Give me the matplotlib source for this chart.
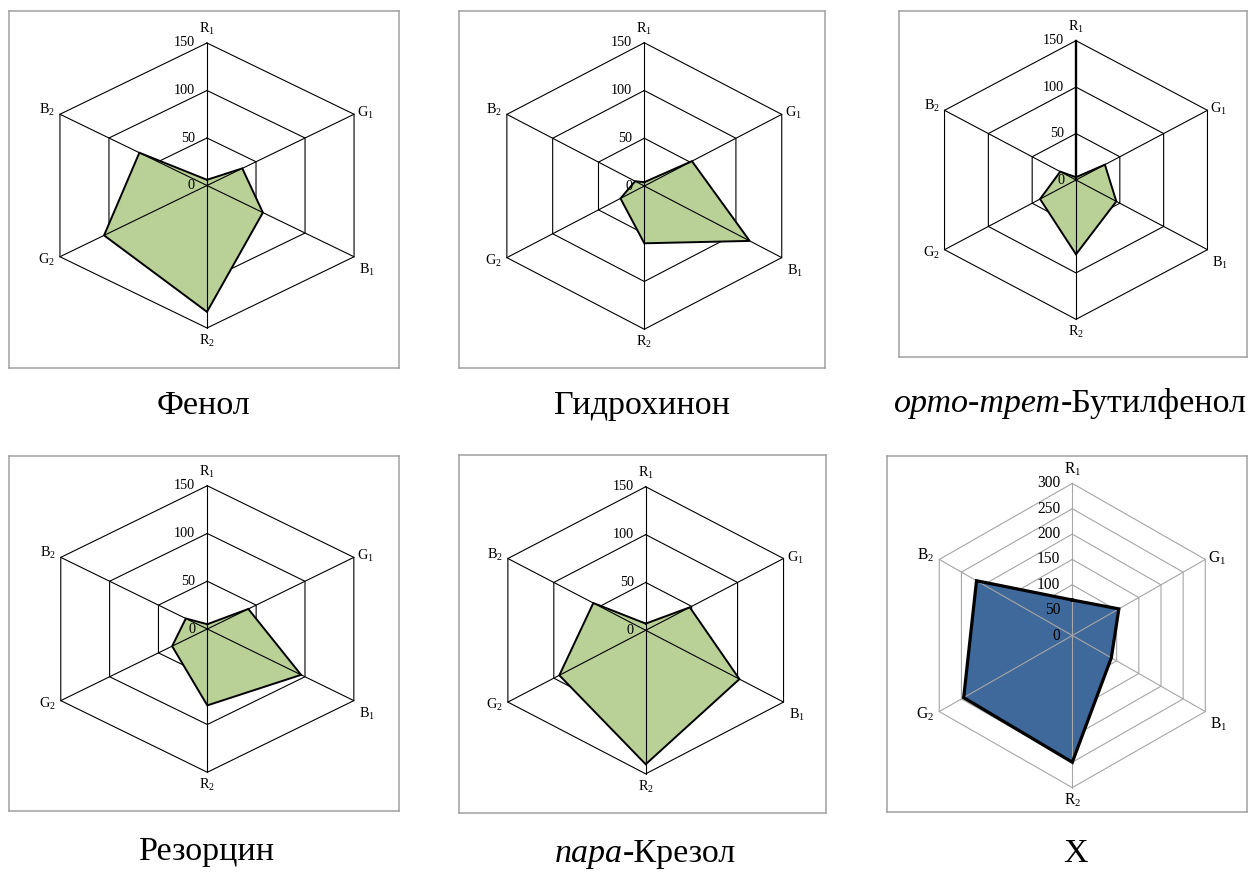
import numpy as np
import matplotlib
matplotlib.use("Agg")
import matplotlib.pyplot as plt

plt.rcParams["font.family"] = ["Liberation Serif", "DejaVu Serif"]
plt.rcParams["mathtext.fontset"] = "custom"
plt.rcParams["mathtext.rm"] = "Liberation Serif"
plt.rcParams["mathtext.it"] = "Liberation Serif:italic"

W, H = 1248, 872
DPI = 100
PT = 72.0 / DPI  # points per pixel

# Colour channels of the two exposures, clockwise from the top
axis_labels = [r"$\mathrm{R}_1$", r"$\mathrm{G}_1$", r"$\mathrm{B}_1$",
               r"$\mathrm{R}_2$", r"$\mathrm{G}_2$", r"$\mathrm{B}_2$"]

# Analytical signal per channel for each compound
phenol = [6, 36, 57, 133, 105, 69]
hydroquinone = [4, 52, 115, 60, 26, 10]
tert_butylphenol = [3, 33, 46, 80, 41, 18]
resorcinol = [5, 42, 96, 80, 36, 22]
p_cresol = [7, 48, 102, 140, 94, 57]
sample_x = [70, 105, 88, 250, 245, 216]

ticks_150 = [0, 50, 100, 150]
ticks_300 = [0, 50, 100, 150, 200, 250, 300]

captions = [
    [("Фенол", "normal")],
    [("Гидрохинон", "normal")],
    [("орто-трет", "italic"), ("-Бутилфенол", "normal")],
    [("Резорцин", "normal")],
    [("пара", "italic"), ("-Крезол", "normal")],
    [("X", "normal")],
]

GREEN = "#B9D097"
BLUE = "#3F689B"

# panel geometry in pixels: frame (left, top, right, bottom), centre, px per unit (x, y)
panels = [
    dict(data=phenol, ticks=ticks_150, box=(9, 11, 399, 368), c=(207, 185.5), s=(1.132, 0.950),
         fill=GREEN, grid="black", edge=1.4, cap=(204, 414), fs=10.3, top_spoke=0.8),
    dict(data=hydroquinone, ticks=ticks_150, box=(459, 11, 825, 368), c=(644.3, 186), s=(1.058, 0.955),
         fill=GREEN, grid="black", edge=1.4, cap=(642, 414), fs=10.3, top_spoke=0.8),
    dict(data=tert_butylphenol, ticks=ticks_150, box=(899, 11, 1247, 357), c=(1076, 180), s=(1.012, 0.929),
         fill=GREEN, grid="black", edge=1.4, cap=(1070, 412), fs=10.3, top_spoke=1.7),
    dict(data=resorcinol, ticks=ticks_150, box=(9, 456, 399, 811), c=(207.3, 629), s=(1.128, 0.955),
         fill=GREEN, grid="black", edge=1.4, cap=(207, 860), fs=10.3, top_spoke=0.8),
    dict(data=p_cresol, ticks=ticks_150, box=(459, 455, 826, 813), c=(645.7, 630.3), s=(1.061, 0.957),
         fill=GREEN, grid="black", edge=1.4, cap=(645, 862), fs=10.3, top_spoke=0.8),
    dict(data=sample_x, ticks=ticks_300, box=(887, 456, 1247, 812), c=(1072.3, 635.5), s=(0.512, 0.507),
         fill=BLUE, grid="#A6A6A6", edge=2.3, cap=(1075, 862), fs=11.2, top_spoke=0.8),
]

angles = np.deg2rad(90 - 60 * np.arange(6))
ux, uy = np.cos(angles), np.sin(angles)

# label placement around each vertex: (dx px, dy px, ha)
label_place = [(0, 14, "center"), (3, 1, "left"), (5, -13, "left"),
               (0, -13, "center"), (-5, -3, "right"), (-5, 4, "right")]

fig = plt.figure(figsize=(W / DPI, H / DPI), dpi=DPI)
fig.patch.set_facecolor("white")

for p in panels:
    l, t, r, b = p["box"]
    cx, cy = p["c"]
    sx, sy = p["s"]
    ax = fig.add_axes([l / W, 1 - b / H, (r - l) / W, (b - t) / H])
    ax.set_xlim((l - cx) / sx, (r - cx) / sx)
    ax.set_ylim((cy - b) / sy, (cy - t) / sy)
    ax.set_xticks([])
    ax.set_yticks([])
    for sp in ax.spines.values():
        sp.set_color("#A0A0A0")
        sp.set_linewidth(1.1)

    rmax = p["ticks"][-1]
    # hexagonal rings
    for v in p["ticks"][1:]:
        ax.plot(np.append(ux, ux[0]) * v, np.append(uy, uy[0]) * v,
                color=p["grid"], lw=0.8, zorder=1, solid_joinstyle="miter")
    # data polygon
    vals = np.asarray(p["data"], dtype=float)
    px, py = ux * vals, uy * vals
    ax.fill(px, py, color=p["fill"], lw=0, zorder=2)
    # spokes
    for k in range(6):
        lw = p["top_spoke"] if k == 0 else 0.8
        ax.plot([0, ux[k] * rmax], [0, uy[k] * rmax], color=p["grid"], lw=lw, zorder=3)
    ax.plot(np.append(px, px[0]), np.append(py, py[0]), color="black",
            lw=p["edge"], zorder=4, solid_joinstyle="miter")

    # value scale along the top spoke
    for v in p["ticks"]:
        ax.annotate(str(v), xy=(0, v), xytext=(-12 * PT, 0), textcoords="offset points",
                    ha="right", va="center", fontsize=p["fs"], zorder=5)
    # channel names
    for k, name in enumerate(axis_labels):
        dx, dy, ha = label_place[k]
        ax.annotate(name, xy=(ux[k] * rmax, uy[k] * rmax), xytext=(dx * PT, dy * PT),
                    textcoords="offset points", ha=ha, va="center", fontsize=p["fs"], zorder=5)

# captions under each panel, mixing italic and upright parts
renderer = fig.canvas.get_renderer()
for p, parts in zip(panels, captions):
    capx, capy = p["cap"]
    arts = [fig.text(0, 1 - capy / H, s, fontsize=24.5, fontstyle=st, ha="left", va="baseline")
            for s, st in parts]
    widths = [a.get_window_extent(renderer).width for a in arts]
    x = capx - sum(widths) / 2
    for a, w in zip(arts, widths):
        a.set_x(x / W)
        x += w

fig.savefig("out.png", dpi=DPI, facecolor="white")
